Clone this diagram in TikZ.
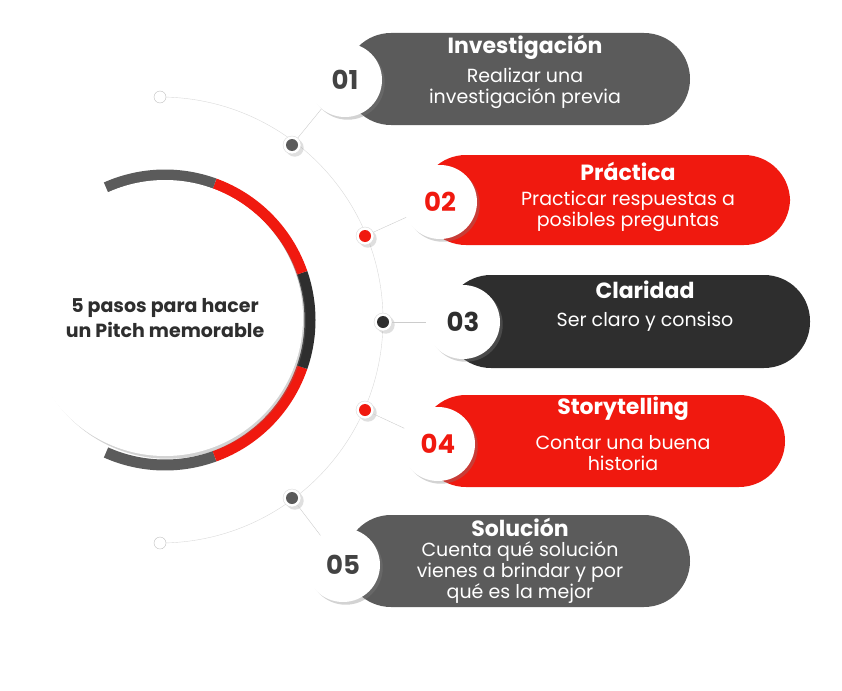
\documentclass[tikz,border=0pt]{standalone}
\usepackage{fontspec}
\setmainfont{Poppins}
\usetikzlibrary{shadows}
\definecolor{pgray}{HTML}{5B5B5B}
\definecolor{pred}{HTML}{F0190F}
\definecolor{pdark}{HTML}{2E2E2E}
\tikzset{
  numc/.style={circle,fill=white,minimum size=74pt,drop shadow={opacity=0.35},font=\bfseries\fontsize{26}{26}\selectfont},
  dot/.style={circle,fill=white,draw=black!15,minimum size=18pt,inner sep=0pt,drop shadow={opacity=0.25}},
  ttl/.style={text=white,font=\bfseries\fontsize{22}{22}\selectfont},
  bdy/.style={text=white,align=center,font=\fontsize{19}{21}\selectfont}
}
\begin{document}
\begin{tikzpicture}[x=1pt,y=-1pt]
\useasboundingbox (0,0) rectangle (842,690);
% arco guia
\draw[black!15] (160,97) arc[start angle=90,end angle=-90,x radius=223,y radius=-223];
\node[circle,draw=black!25,fill=white,minimum size=12pt,inner sep=0pt] (o1) at (160,97) {};
\node[circle,draw=black!25,fill=white,minimum size=12pt,inner sep=0pt] (o2) at (160,543) {};
% pastillas
\fill[pgray,rounded corners=46pt] (345,33) rectangle (690,125);
\fill[pred,rounded corners=46pt] (420,155) rectangle (790,245);
\fill[pdark,rounded corners=46pt] (445,275) rectangle (810,368);
\fill[pred,rounded corners=46pt] (420,395) rectangle (785,487);
\fill[pgray,rounded corners=46pt] (345,515) rectangle (690,607);
\node[ttl] (t1) at (525,47) {Investigación};
\node[bdy] (b1) at (525,88) {Realizar una\\investigación previa};
\node[ttl] (t2) at (628,171) {Práctica};
\node[bdy] (b2) at (628,211) {Practicar respuestas a\\posibles preguntas};
\node[ttl] (t3) at (645,290) {Claridad};
\node[bdy] (b3) at (645,322) {Ser claro y consiso};
\node[ttl] (t4) at (623,409) {Storytelling};
\node[bdy] (b4) at (623,453) {Contar una buena\\historia};
\node[ttl] (t5) at (520,527) {Solución};
\node[bdy] (b5) at (520,572) {Cuenta qué solución\\vienes a brindar y por\\qué es la mejor};
% puntos y numeros
\node[dot] (d1) at (292,145) {};
\node[dot] (d2) at (365,236) {};
\node[dot] (d3) at (383,322) {};
\node[dot] (d4) at (365,410) {};
\node[dot] (d5) at (292,498) {};
\node[numc,text=pdark!90] (n1) at (345,80) {01};
\node[numc,text=pred] (n2) at (440,202) {02};
\node[numc,text=pdark] (n3) at (463,322) {03};
\node[numc,text=pred] (n4) at (438,444) {04};
\node[numc,text=pdark!90] (n5) at (343,565) {05};
\foreach \d/\n in {d1/n1,d2/n2,d3/n3,d4/n4,d5/n5} \draw[black!20] (\d) -- (\n);
\fill[pgray] (d1) circle (6);
\fill[pred] (d2) circle (6);
\fill[pdark] (d3) circle (6);
\fill[pred] (d4) circle (6);
\fill[pgray] (d5) circle (6);
% circulo central
\draw[pgray,line width=11pt] (165,320) ++(114:145) arc[start angle=114,end angle=70,radius=145];
\draw[pred,line width=11pt] (165,320) ++(70:145) arc[start angle=70,end angle=19,radius=145];
\draw[pdark,line width=11pt] (165,320) ++(19:145) arc[start angle=19,end angle=-19,radius=145];
\draw[pred,line width=11pt] (165,320) ++(-19:145) arc[start angle=-19,end angle=-70,radius=145];
\draw[pgray,line width=11pt] (165,320) ++(-70:145) arc[start angle=-70,end angle=-114,radius=145];
\node[circle,fill=white,minimum size=276pt,drop shadow={opacity=0.35},align=center,
  font=\bfseries\fontsize{19}{25}\selectfont,text=pdark] (c) at (165,318) {5 pasos para hacer\\un Pitch memorable};
\end{tikzpicture}
\end{document}
